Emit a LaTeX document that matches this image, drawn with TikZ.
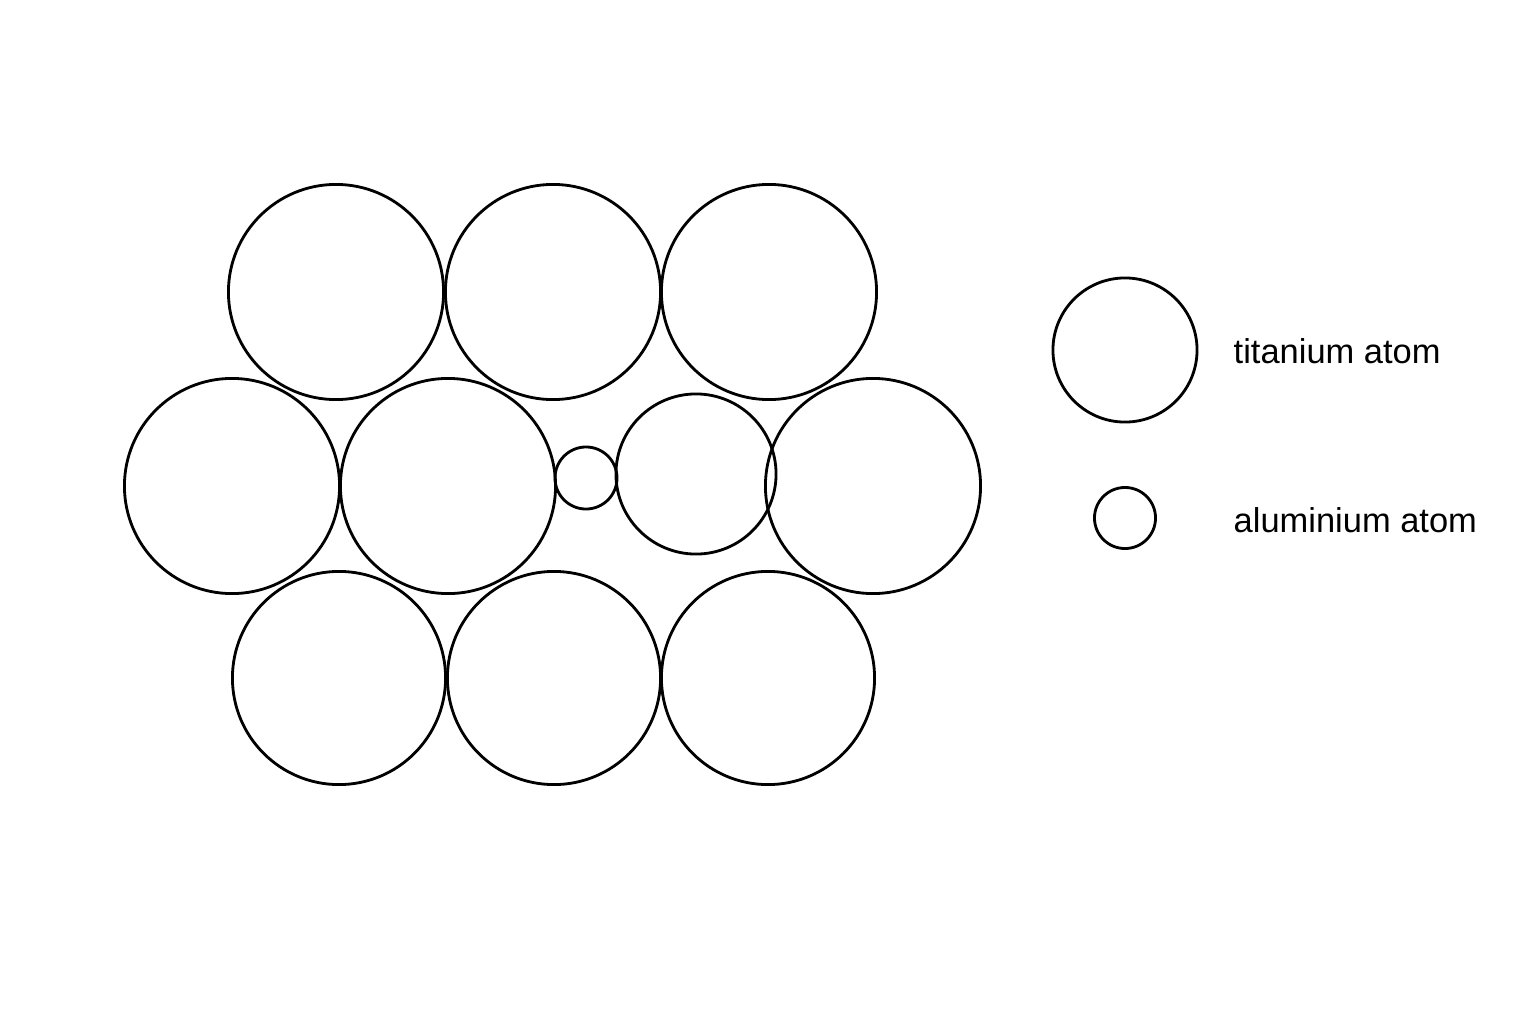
\documentclass[tikz,border=0pt]{standalone}
\usepackage{fontspec}
\setmainfont{Liberation Sans}
\usepackage{tikz}

\begin{document}
\begin{tikzpicture}[x=0.01cm,y=-0.01cm,
    atom/.style={circle,draw,line width=0.8pt,inner sep=0pt,minimum size=#1*0.02cm},
    legtext/.style={anchor=base west,inner sep=0pt,font=\fontsize{9.8}{11}\selectfont}]

\useasboundingbox (0,0) rectangle (1536,1024);

% titanium atoms, rows from top to bottom
\foreach \name/\x/\y in {t1/336/292, t2/553/292, t3/769/292,
                         t4/232/486, t5/448/486, t6/873/486}
    \node [atom=107.5] (\name) at (\x,\y) {};

\foreach \name/\x/\y in {t7/339/678, t8/554/678, t9/768/678}
    \node [atom=106.5] (\name) at (\x,\y) {};

% the odd ones in the middle row
\node [atom=31] (al) at (586,478) {};
\node [atom=80] (mid) at (696,474) {};

% key
\node [atom=72] (keyti) at (1125,350) {};
\node [atom=30.5] (keyal) at (1125,518) {};

\node [legtext] (labti) at (1233,363) {titanium atom};
\node [legtext] (labal) at (1233,532) {aluminium atom};

\end{tikzpicture}
\end{document}
